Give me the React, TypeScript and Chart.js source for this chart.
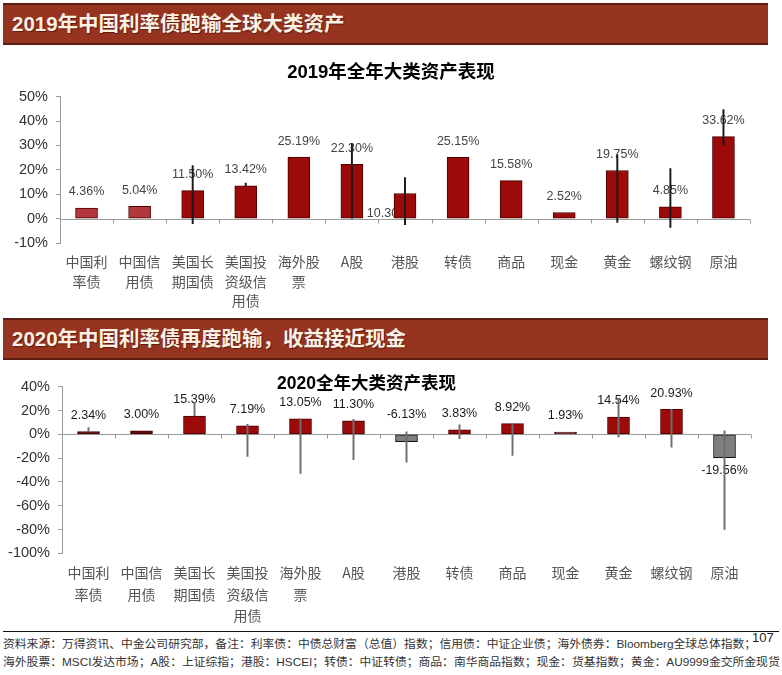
import React, { useEffect, useRef } from "react";
import { Chart, registerables } from "chart.js";

Chart.register(...registerables);

// ---------- data ----------
const categories: string[][] = [
  ["中国利", "率债"],
  ["中国信", "用债"],
  ["美国长", "期国债"],
  ["美国投", "资级信", "用债"],
  ["海外股", "票"],
  ["A股"],
  ["港股"],
  ["转债"],
  ["商品"],
  ["现金"],
  ["黄金"],
  ["螺纹钢"],
  ["原油"],
];

const returns2019 = [4.36, 5.04, 11.5, 13.42, 25.19, 22.3, 10.3, 25.15, 15.58, 2.52, 19.75, 4.85, 33.62];
const low2019 = [null, null, -2.1, 13.42, null, 0, -2.5, null, null, null, -1.6, -3.6, 30];
const high2019 = [null, null, 21.7, 14.6, null, 30.8, 16.8, null, null, null, 26.2, 20.5, 44.7];

const returns2020 = [2.34, 3.0, 15.39, 7.19, 13.05, 11.3, -6.13, 3.83, 8.92, 1.93, 14.54, 20.93, -19.56];
const low2020 = [2.34, null, 15.39, -18.6, -32.9, -21.4, -23.4, -3.7, -17.7, null, -2.3, -10.9, -80];
const high2020 = [5.6, null, 26.5, 8.4, 13.05, 12.6, 2.0, 8.0, 8.92, null, 30.0, 20.93, 2.9];

const yMin2019 = -10;
const yMax2019 = 50;
const yStep2019 = 10;
const yMin2020 = -100;
const yMax2020 = 40;
const yStep2020 = 20;

const banner2019 = "2019年中国利率债跑输全球大类资产";
const banner2020 = "2020年中国利率债再度跑输，收益接近现金";
const title2019 = "2019年全年大类资产表现";
const title2020 = "2020全年大类资产表现";
const sourceLine1 =
  "资料来源：万得资讯、中金公司研究部，备注：利率债：中债总财富（总值）指数；信用债：中证企业债；海外债券：Bloomberg全球总体指数；";
const sourceLine2 =
  "海外股票：MSCI发达市场；A股：上证综指；港股：HSCEI；转债：中证转债；商品：南华商品指数；现金：货基指数；黄金：AU9999金交所金现货";
const pageNumber = "107";

// ---------- plugins ----------
const zeroAxisPlugin = {
  id: "zeroAxis",
  beforeDatasetsDraw(chart: any, _args: any, opts: any) {
    const { ctx, chartArea } = chart;
    const x = chart.scales.x;
    const y = chart.scales.y;
    const y0 = Math.round(y.getPixelForValue(0)) + 0.5;
    const n = chart.data.labels.length;
    const w = (chartArea.right - chartArea.left) / n;
    ctx.save();
    ctx.strokeStyle = opts.color;
    ctx.lineWidth = 1;
    ctx.beginPath();
    ctx.moveTo(chartArea.left, y0);
    ctx.lineTo(chartArea.right, y0);
    for (let i = 1; i <= n; i++) {
      const px = Math.round(x.getPixelForValue(i - 1) + w / 2) + 0.5;
      ctx.moveTo(px, y0);
      ctx.lineTo(px, y0 + opts.tick);
    }
    ctx.stroke();
    ctx.restore();
  },
};

const valueLabelPlugin = {
  id: "valueLabels",
  beforeDatasetsDraw(chart: any, _args: any, opts: any) {
    const idx = opts.datasetIndex;
    const meta = chart.getDatasetMeta(idx);
    const data = chart.data.datasets[idx].data;
    const ys = chart.scales.y;
    const ctx = chart.ctx;
    ctx.save();
    ctx.font = opts.font;
    ctx.fillStyle = opts.color;
    ctx.textAlign = "center";
    ctx.textBaseline = "middle";
    meta.data.forEach((el: any, i: number) => {
      const v = data[i] as number;
      const place = (opts.placement && opts.placement[i]) || "above";
      let x = el.x;
      let y = 0;
      if (place === "above") y = ys.getPixelForValue(Math.max(v, 0)) - 16;
      else if (place === "aboveZero") y = ys.getPixelForValue(0) - 20;
      else if (place === "below") y = ys.getPixelForValue(v) + 13;
      else if (place === "baseLeft") {
        x = el.x - 17;
        y = ys.getPixelForValue(0) - 5;
      }
      ctx.fillText(v.toFixed(2) + "%", x, y);
    });
    ctx.restore();
  },
};

// ---------- chart builder ----------
function buildConfig(p: {
  values: number[];
  low: (number | null)[];
  high: (number | null)[];
  colors: string[];
  borders: string[];
  whiskerColor: string;
  yMin: number;
  yMax: number;
  yStep: number;
  yWidth: number;
  xHeight: number;
  padTop: number;
  padRight: number;
  xPad: number;
  xLineHeight: number;
  labelColor: string;
  placement: string[];
}) {
  const whisker = p.low.map((l, i) => (l == null || p.high[i] == null ? null : [l, p.high[i]]));
  return {
    type: "bar",
    data: {
      labels: categories,
      datasets: [
        {
          data: whisker,
          backgroundColor: p.whiskerColor,
          borderWidth: 0,
          barThickness: 1.3,
          grouped: false,
        },
        {
          data: p.values,
          backgroundColor: p.colors,
          borderColor: p.borders,
          borderWidth: 1,
          borderSkipped: false,
          barThickness: 22,
          grouped: false,
        },
      ],
    },
    options: {
      responsive: false,
      animation: false,
      layout: { padding: { top: p.padTop, right: p.padRight, left: 0, bottom: 0 } },
      plugins: {
        legend: { display: false },
        tooltip: { enabled: false },
        title: { display: false },
        zeroAxis: { color: "#9a9a9a", tick: 4 },
        valueLabels: {
          datasetIndex: 1,
          font: "12.5px 'Liberation Sans', Arial, sans-serif",
          color: p.labelColor,
          placement: p.placement,
        },
      },
      scales: {
        x: {
          type: "category",
          offset: true,
          grid: { display: false },
          border: { display: false },
          ticks: {
            autoSkip: false,
            maxRotation: 0,
            minRotation: 0,
            padding: p.xPad,
            color: "#555",
            font: { family: "'Noto Sans CJK SC', sans-serif", size: 14, lineHeight: p.xLineHeight },
          },
          afterFit: (s: any) => {
            s.height = p.xHeight;
          },
        },
        y: {
          min: p.yMin,
          max: p.yMax,
          grid: { drawOnChartArea: false, drawTicks: true, tickLength: 4, color: "#9a9a9a" },
          border: { display: true, color: "#9a9a9a" },
          ticks: {
            stepSize: p.yStep,
            padding: 8,
            color: "#333",
            font: { family: "'Liberation Sans', Arial, sans-serif", size: 14.5 },
            callback: (v: any) => v + "%",
          },
          afterFit: (s: any) => {
            s.width = p.yWidth;
          },
        },
      },
    },
    plugins: [zeroAxisPlugin, valueLabelPlugin],
  } as any;
}

function BarChart(props: { config: any; width: number; height: number; style: React.CSSProperties }) {
  const ref = useRef<HTMLCanvasElement | null>(null);
  useEffect(() => {
    if (!ref.current) return;
    const c = new Chart(ref.current, props.config);
    return () => c.destroy();
  }, []);
  return <canvas ref={ref} width={props.width} height={props.height} style={{ position: "absolute", ...props.style }} />;
}

const bannerStyle = (top: number): React.CSSProperties => ({
  position: "absolute",
  left: 3,
  top,
  width: 756,
  height: 38,
  background: "#963420",
  borderTop: "2px solid #5a1e12",
  borderBottom: "2px solid #5a1e12",
  color: "#fbf1e4",
  fontFamily: "'Liberation Sans', 'Noto Sans CJK SC', sans-serif",
  fontWeight: 700,
  fontSize: 20.5,
  lineHeight: "38px",
  paddingLeft: 9,
  boxSizing: "content-box",
  whiteSpace: "nowrap",
  textShadow: "1px 1px 1px rgba(60,10,0,0.6)",
});

export default function App() {
  const dark = "#9c0a0a";
  const darkBorder = "#4a0000";
  const colors2019 = returns2019.map((_, i) => (i < 2 ? "#b2383d" : dark));
  const borders2019 = returns2019.map(() => darkBorder);
  const colors2020 = returns2020.map((v, i) => (v < 0 ? "#7f7f7f" : i < 2 || i === 9 ? "#5a0c0c" : dark));
  const borders2020 = returns2020.map((v) => (v < 0 ? "#111" : darkBorder));

  const cfg2019 = buildConfig({
    values: returns2019,
    low: low2019,
    high: high2019,
    colors: colors2019,
    borders: borders2019,
    whiskerColor: "#1a1a1a",
    yMin: yMin2019,
    yMax: yMax2019,
    yStep: yStep2019,
    yWidth: 60,
    xHeight: 72,
    padTop: 10,
    padRight: 32,
    xPad: 1,
    xLineHeight: 1.4,
    labelColor: "#444",
    placement: returns2019.map((_, i) => (i === 6 ? "baseLeft" : "above")),
  });

  const cfg2020 = buildConfig({
    values: returns2020,
    low: low2020,
    high: high2020,
    colors: colors2020,
    borders: borders2020,
    whiskerColor: "#6e6e6e",
    yMin: yMin2020,
    yMax: yMax2020,
    yStep: yStep2020,
    yWidth: 62,
    xHeight: 76.7,
    padTop: 21.7,
    padRight: 31,
    xPad: 0.5,
    xLineHeight: 1.55,
    labelColor: "#1a1a1a",
    placement: returns2020.map((v, i) => (i === 12 ? "below" : v < 0 ? "aboveZero" : "above")),
  });

  return (
    <div
      style={{
        position: "absolute",
        left: 0,
        top: 0,
        width: 782,
        height: 675,
        background: "#fff",
        overflow: "hidden",
      }}
    >
      <div style={bannerStyle(3)}>{banner2019}</div>
      <div
        style={{
          position: "absolute",
          left: 0,
          width: 782,
          top: 60,
          textAlign: "center",
          fontFamily: "'Liberation Sans', 'Noto Sans CJK SC', sans-serif",
          fontWeight: 700,
          fontSize: 18.5,
          lineHeight: "24px",
          color: "#000",
          zIndex: 2,
        }}
      >
        {title2019}
      </div>
      <BarChart config={cfg2019} width={782} height={235} style={{ left: 0, top: 80 }} />

      <div style={bannerStyle(318)}>{banner2020}</div>
      <BarChart config={cfg2020} width={782} height={265} style={{ left: 0, top: 365 }} />
      <div
        style={{
          position: "absolute",
          left: 277,
          top: 371,
          fontFamily: "'Liberation Sans', 'Noto Sans CJK SC', sans-serif",
          fontWeight: 700,
          fontSize: 17.5,
          lineHeight: "24px",
          color: "#000",
          whiteSpace: "nowrap",
          zIndex: 2,
        }}
      >
        {title2020}
      </div>

      <div style={{ position: "absolute", left: 3, top: 631, width: 776, height: 0, borderTop: "1.5px solid #111" }} />
      <div
        style={{
          position: "absolute",
          left: 3,
          top: 636,
          fontFamily: "'Liberation Sans', 'Noto Sans CJK SC', sans-serif",
          fontSize: 11.8,
          lineHeight: "17.5px",
          color: "#333",
          whiteSpace: "nowrap",
        }}
      >
        <div>{sourceLine1}</div>
        <div>{sourceLine2}</div>
      </div>
      <div
        style={{
          position: "absolute",
          left: 752,
          top: 630,
          fontFamily: "'Liberation Sans', Arial, sans-serif",
          fontSize: 13,
          color: "#222",
        }}
      >
        {pageNumber}
      </div>
    </div>
  );
}
